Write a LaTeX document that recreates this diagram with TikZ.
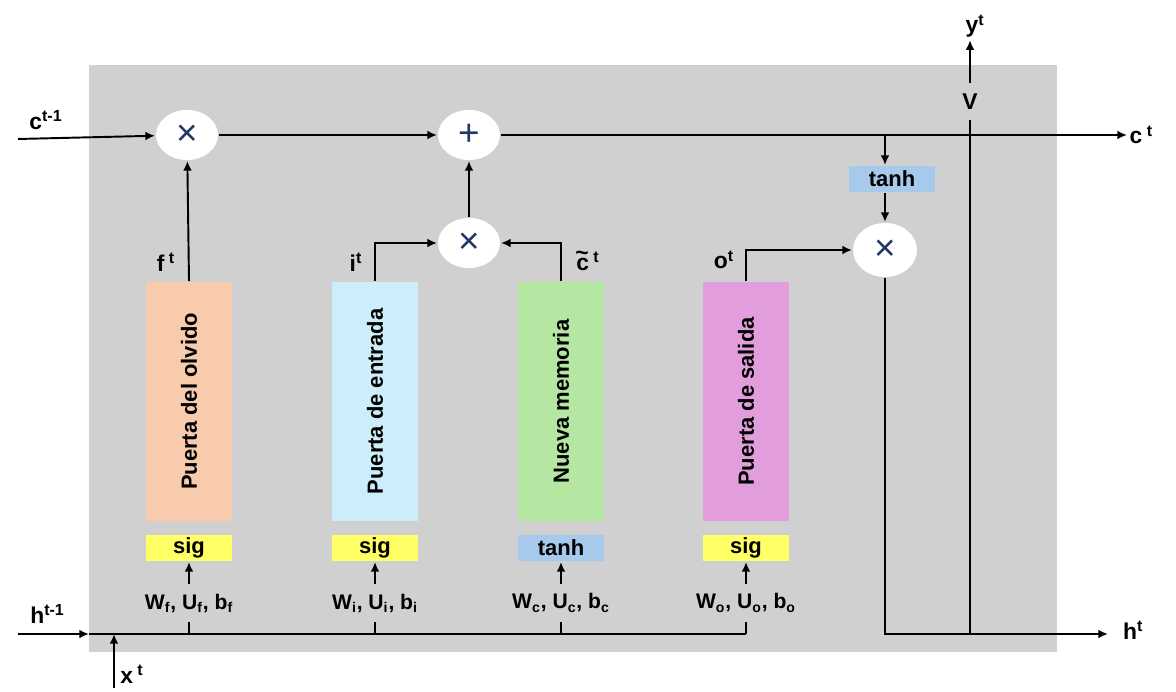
\documentclass[tikz,border=0pt]{standalone}
\usepackage{fontspec}
\setmainfont{Liberation Sans}
\usetikzlibrary{arrows.meta,shapes.geometric,backgrounds,calc}
\definecolor{cellgray}{RGB}{208,208,208}
\definecolor{opnavy}{RGB}{31,56,100}
\definecolor{olvidocol}{RGB}{248,203,173}
\definecolor{entradacol}{RGB}{204,237,250}
\definecolor{memoriacol}{RGB}{181,230,162}
\definecolor{salidacol}{RGB}{226,158,220}
\definecolor{sigcol}{RGB}{255,255,102}
\definecolor{tanhcol}{RGB}{166,201,236}
\tikzset{
  op/.style={ellipse, fill=white, minimum width=1.24cm, minimum height=1cm, inner sep=0pt,
    text=opnavy, font=\fontsize{21}{21}\selectfont},
  gate/.style={rotate=90, minimum width=4.78cm, minimum height=1.72cm, inner sep=0pt,
    font=\bfseries\fontsize{12.5}{14}\selectfont},
  act/.style={minimum width=1.72cm, minimum height=0.52cm, inner sep=0pt,
    font=\bfseries\fontsize{12.5}{12.5}\selectfont},
  wlab/.style={inner sep=0.18cm, font=\bfseries\fontsize{12}{12}\selectfont},
  lab/.style={inner sep=1pt, font=\bfseries\fontsize{13}{13}\selectfont},
  wire/.style={line width=1.1pt},
  >={Latex[length=5.5pt,width=5pt]}
}
\begin{document}
\begin{tikzpicture}[wire]
\useasboundingbox (0cm,0cm) rectangle (23.52cm,-13.84cm);
\fill[cellgray] (1.78cm,-1.30cm) rectangle (21.14cm,-13.04cm);

% operaciones
\node[op] (fmul) at (3.74cm,-2.70cm) {×};
\node[op] (plus) at (9.38cm,-2.70cm) {+};
\node[op] (imul) at (9.38cm,-4.86cm) {×};
\node[op, minimum width=1.28cm, minimum height=1.08cm] (omul) at (17.70cm,-5.00cm) {×};
\node[act, fill=tanhcol] (tanho) at (17.84cm,-3.58cm) {tanh};

% puertas
\node[gate, fill=olvidocol] (olvido) at (3.78cm,-8.03cm) {Puerta del olvido};
\node[gate, fill=entradacol] (entrada) at (7.50cm,-8.03cm) {Puerta de entrada};
\node[gate, fill=memoriacol] (memoria) at (11.22cm,-8.03cm) {Nueva memoria};
\node[gate, fill=salidacol] (salida) at (14.92cm,-8.03cm) {Puerta de salida};

\node[act, fill=sigcol] (sigf) at (3.78cm,-10.96cm) {sig};
\node[act, fill=sigcol] (sigi) at (7.50cm,-10.96cm) {sig};
\node[act, fill=tanhcol] (tanhc) at (11.22cm,-10.96cm) {tanh};
\node[act, fill=sigcol] (sigo) at (14.92cm,-10.96cm) {sig};

\node[wlab] (wf) at (3.78cm,-12.06cm) {W\textsubscript{f}, U\textsubscript{f}, b\textsubscript{f}};
\node[wlab] (wi) at (7.50cm,-12.06cm) {W\textsubscript{i}, U\textsubscript{i}, b\textsubscript{i}};
\node[wlab] (wc) at (11.22cm,-12.06cm) {W\textsubscript{c}, U\textsubscript{c}, b\textsubscript{c}};
\node[wlab] (wo) at (14.92cm,-12.06cm) {W\textsubscript{o}, U\textsubscript{o}, b\textsubscript{o}};

% etiquetas
\node[lab] (ct1) at (0.92cm,-2.40cm) {c\textsuperscript{t-1}};
\node[lab] (ht1) at (0.95cm,-12.28cm) {h\textsuperscript{t-1}};
\node[lab] (xt) at (2.64cm,-13.48cm) {x\textsuperscript{ t}};
\node[lab] (ft) at (3.32cm,-5.24cm) {f\textsuperscript{ t}};
\node[lab] (it) at (7.12cm,-5.24cm) {i\textsuperscript{t}};
\node[lab] (cnt) at (11.76cm,-5.22cm) {\rlap{\hspace{-0.04em}\raisebox{0.42em}{\char"007E}}c\textsuperscript{ t}};
\node[lab] (ot) at (14.48cm,-5.20cm) {o\textsuperscript{t}};
\node[lab, inner sep=0.2cm] (V) at (19.40cm,-2.03cm) {V};
\node[lab] (yt) at (19.50cm,-0.52cm) {y\textsuperscript{t}};

\coordinate (cin) at (0.36cm,-2.78cm);
\coordinate (cout) at (22.54cm,-2.70cm);
\coordinate (hin) at (0.36cm,-12.68cm);
\coordinate (hl) at (1.78cm,-12.68cm);
\coordinate (hr) at (14.92cm,-12.68cm);
\coordinate (hout) at (22.16cm,-12.68cm);
\coordinate (xin) at (2.28cm,-13.76cm);
\node[lab, right] (ctl) at (cout) {c\textsuperscript{ t}};
\node[lab, right] (htl) at ($(hout)+(0.25cm,0.08cm)$) {h\textsuperscript{t}};

% estado de celda
\draw[->] (cin) -- (fmul);
\draw[->] (fmul) -- (plus);
\draw[->] (plus) -- (cout);
\draw[->] (omul |- plus) -- (omul |- tanho.north);
\draw[->] (omul |- tanho.south) -- (omul.north);

% salidas de las puertas
\draw[->] (olvido.east) -- (fmul);
\draw[->] (entrada.east) |- (imul.west);
\draw[->] (memoria.east) |- (imul.east);
\draw[->] (imul) -- (plus);
\draw[->] (salida.east) |- (omul.west);

% entradas
\draw[->] (hin) -- (hl);
\draw (hl) -- (hr);
\draw[->] (xin) -- (xin |- hl);
\foreach \w/\a in {wf/sigf, wi/sigi, wc/tanhc, wo/sigo} {
  \draw[->] (\w) -- (\a);
  \draw (\w) -- (\w |- hl);
}

% salida h y y
\draw[->] (omul.south) |- (hout);
\draw (V |- hout) -- (V.south);
\draw[->] (V.north) -- (V |- yt.south);
\end{tikzpicture}
\end{document}
